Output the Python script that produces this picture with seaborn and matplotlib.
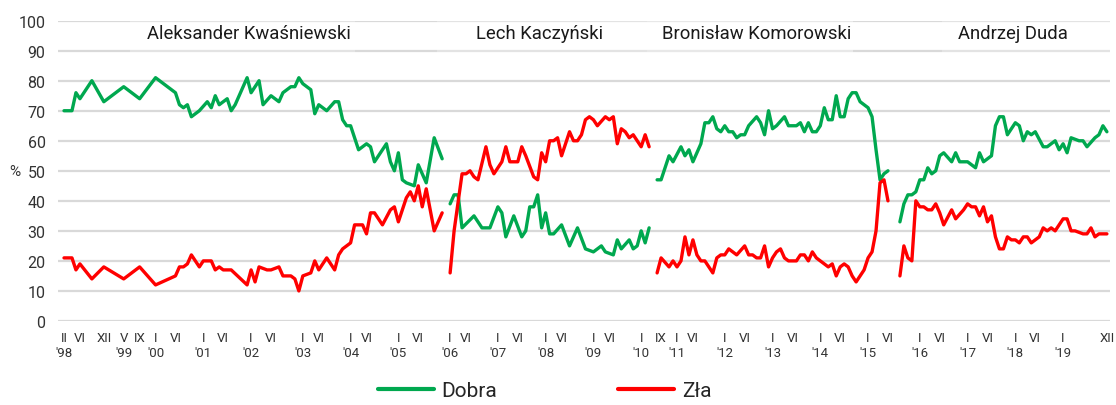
import matplotlib
matplotlib.use('Agg')
import matplotlib.pyplot as plt
import pandas as pd
import seaborn as sns


# survey index (one step per survey on the category axis) and share in %
kwas_x = [0, 2, 3, 4, 7, 10, 15, 19, 23, 28, 29, 30, 31, 32, 34, 36, 37, 38, 39, 41, 42, 43, 46, 47, 49, 50,
          52, 54, 55, 57, 58, 59, 60, 62, 63, 64, 66, 68, 69, 70, 71, 72, 74, 76, 77, 78, 81, 82, 83, 84, 85,
          86, 88, 89, 91, 93, 95]
kwas_dobra = [70, 70, 76, 74, 80, 73, 78, 74, 81, 76, 72, 71, 72, 68, 70, 73, 71, 75, 72, 74, 70, 72, 81, 76, 80, 72,
              75, 73, 76, 78, 78, 81, 79, 77, 69, 72, 70, 73, 73, 67, 65, 65, 57, 59, 58, 53, 59, 53, 50, 56, 47,
              46, 45, 52, 46, 61, 54]
kwas_zla_x = [0, 2, 3, 4, 7, 10, 15, 19, 23, 28, 29, 30, 31, 32, 34, 35, 37, 38, 39, 40, 42, 46, 47, 48, 49, 51,
              52, 54, 55, 57, 58, 59, 60, 62, 63, 64, 66, 68, 69, 70, 72, 73, 75, 76, 77, 78, 80, 82, 83, 84, 86,
              87, 88, 89, 90, 91, 93, 95]
kwas_zla = [21, 21, 17, 19, 14, 18, 14, 18, 12, 15, 18, 18, 19, 22, 18, 20, 20, 17, 18, 17, 17, 12, 17, 13, 18, 17,
            17, 18, 15, 15, 14, 10, 15, 16, 20, 17, 21, 17, 22, 24, 26, 32, 32, 29, 36, 36, 32, 37, 38, 33, 41,
            43, 40, 45, 38, 44, 30, 36]

kacz_x = [97, 98, 99, 100, 103, 105, 107, 109, 110, 111, 113, 115, 116, 117, 118, 119, 120, 121, 122, 123, 125,
          127, 129, 131, 133, 135, 136, 138, 139, 140, 142, 143, 144, 145, 146, 147]
kacz_dobra = [39, 42, 42, 31, 35, 31, 31, 38, 36, 28, 35, 28, 30, 38, 38, 42, 31, 36, 29, 29, 32,
              25, 31, 24, 23, 25, 23, 22, 27, 24, 27, 24, 25, 30, 26, 31]
kacz_zla_x = [97, 98, 100, 101, 102, 103, 104, 106, 107, 108, 109, 110, 111, 112, 113, 114, 115, 116, 118, 119,
              120, 121, 122, 123, 124, 125, 127, 128, 129, 130, 131, 132, 133, 134, 136, 137, 138, 139, 140,
              141, 142, 143, 145, 146, 147]
kacz_zla = [16, 30, 49, 49, 50, 48, 47, 58, 52, 49, 51, 53, 58, 53, 53, 53, 58, 55, 48, 47,
            56, 53, 60, 60, 61, 55, 63, 60, 60, 62, 67, 68, 67, 65, 68, 67, 68, 59, 64,
            63, 61, 62, 58, 62, 58]

komo_x = [149, 150, 152, 153, 155, 156, 157, 158, 160, 161, 162, 163, 164, 165, 166, 167, 168, 169, 170, 171,
          172, 174, 175, 176, 177, 178, 179, 181, 182, 184, 185, 186, 187, 188, 189, 190, 191, 192, 193, 194,
          195, 196, 197, 198, 199, 200, 201, 202, 203, 204, 205, 206, 207]
komo_dobra = [47, 47, 55, 53, 58, 55, 57, 53, 59, 66, 66, 68, 64, 63, 65, 63, 63, 61, 62, 62,
              65, 68, 66, 62, 70, 64, 65, 68, 65, 65, 66, 63, 66, 63, 63, 65, 71, 67, 67, 75,
              68, 68, 74, 76, 76, 73, 72, 71, 68, 57, 47, 49, 50]
komo_zla_x = [149, 150, 152, 153, 154, 155, 156, 157, 158, 159, 160, 161, 163, 164, 165, 166, 167, 169, 171, 172,
              173, 174, 175, 176, 177, 178, 179, 180, 181, 182, 184, 185, 186, 187, 188, 189, 191, 192, 193, 194,
              195, 196, 197, 198, 199, 200, 201, 202, 203, 204, 205, 206, 207]
komo_zla = [16, 21, 18, 20, 18, 20, 28, 22, 27, 22, 20, 20, 16, 21, 22, 22, 24, 22, 25, 22,
            22, 21, 21, 25, 18, 21, 23, 24, 21, 20, 20, 22, 22, 20, 23, 21, 19, 18, 19, 15,
            18, 19, 18, 15, 13, 15, 17, 21, 23, 30, 46, 47, 40]

duda_x = [210, 211, 212, 213, 214, 215, 216, 217, 218, 219, 220, 221, 223, 224, 225, 226, 227, 228, 229, 230,
          231, 233, 234, 235, 236, 237, 239, 240, 241, 242, 243, 244, 246, 247, 249, 250, 251, 252, 253, 255,
          256, 257, 259, 260, 261, 262]
duda_dobra = [33, 39, 42, 42, 43, 47, 47, 51, 49, 50, 55, 56, 53, 56, 53, 53, 53, 52, 51, 56,
              53, 55, 65, 68, 68, 62, 66, 65, 60, 63, 62, 63, 58, 58, 60, 57, 59, 56, 61, 60,
              60, 58, 61, 62, 65, 63]
duda_zla_x = [210, 211, 212, 213, 214, 215, 216, 217, 218, 219, 220, 221, 223, 224, 226, 227, 228, 229, 230, 231,
              232, 233, 234, 235, 236, 237, 238, 239, 240, 241, 242, 243, 245, 246, 247, 248, 249, 251, 252, 253,
              254, 256, 257, 258, 259, 260, 262]
duda_zla = [15, 25, 21, 20, 40, 38, 38, 37, 37, 39, 36, 32, 37, 34, 37, 39, 38, 38, 35, 38,
            33, 35, 28, 24, 24, 28, 27, 27, 26, 28, 28, 26, 28, 31, 30, 31, 30, 34, 34, 30,
            30, 29, 29, 31, 28, 29, 29]

presidents = ['Aleksander Kwaśniewski', 'Lech Kaczyński', 'Bronisław Komorowski', 'Andrzej Duda']
series_names = ['Dobra', 'Zła']

tick_pos = [0, 4, 10, 15, 19, 23, 28, 35, 40, 47, 52, 60, 64, 72, 76, 84, 89, 97, 101, 109, 114, 121, 125,
            133, 137, 145, 150, 154, 158, 166, 171, 178, 183, 190, 195, 202, 207, 215, 220, 227, 232, 239,
            244, 251, 262]
tick_months = ['II', 'VI', 'XII', 'V', 'IX'] + ['I', 'VI'] * 10 + ['I', 'IX'] + ['I', 'VI'] * 8 + ['I', 'XII']
tick_years = ["'98", '', '', "'99", '', "'00", '', "'01", '', "'02", '', "'03", '', "'04", '', "'05", '',
              "'06", '', "'07", '', "'08", '', "'09", '', "'10", '', "'11", '', "'12", '', "'13", '', "'14", '',
              "'15", '', "'16", '', "'17", '', "'18", '', "'19", '']

# layout only: name label centres and the faint boxes behind them (survey-index units)
name_pos = [46.5, 119.5, 174, 238.5]
name_boxes = [(16.6, 73.1, 0.28), (93.7, 146.5, 0.28), (146.5, 198.2, 0.4), (220.6, 263, 0.28)]
GREEN = '#00A84F'
RED = '#FF0000'


def build_frame():
    parts = [
        (presidents[0], kwas_x, kwas_dobra, kwas_zla_x, kwas_zla),
        (presidents[1], kacz_x, kacz_dobra, kacz_zla_x, kacz_zla),
        (presidents[2], komo_x, komo_dobra, komo_zla_x, komo_zla),
        (presidents[3], duda_x, duda_dobra, duda_zla_x, duda_zla),
    ]
    frames = []
    for name, xd, yd, xz, yz in parts:
        frames.append(pd.DataFrame({'idx': xd, 'value': yd, 'series': series_names[0], 'president': name}))
        frames.append(pd.DataFrame({'idx': xz, 'value': yz, 'series': series_names[1], 'president': name}))
    return pd.concat(frames, ignore_index=True)


def main():
    sns.set_style('white')
    plt.rcParams['font.family'] = ['Roboto', 'DejaVu Sans']

    df = build_frame()
    fig = plt.figure(figsize=(11.16, 4.06), dpi=100)
    ax = fig.add_axes([0.052, 0.207, 0.9427, 0.7397])

    sns.lineplot(data=df, x='idx', y='value', hue='series', units='president', estimator=None,
                 sort=False, palette={'Dobra': GREEN, 'Zła': RED}, linewidth=2.4, ax=ax)

    ax.set_ylim(0, 100)
    ax.set_xlim(-1.5, 262.8)
    ax.set_yticks(range(0, 101, 10))
    ax.yaxis.grid(True, color='#D9D9D9', linewidth=1.6)
    ax.xaxis.grid(False)
    ax.set_axisbelow(True)
    for s in ax.spines.values():
        s.set_visible(False)

    # faint white boxes over the top band, as in the original
    for x0, x1, a in name_boxes:
        ax.axvspan(x0, x1, ymin=0.88, ymax=1.01, facecolor='white', edgecolor='none', alpha=a,
                   zorder=1.5, clip_on=False)

    labels = [m + ('\n' + y if y else '') for m, y in zip(tick_months, tick_years)]
    ax.set_xticks(tick_pos)
    ax.set_xticklabels(labels, fontsize=9.5, color='#333333', linespacing=1.25)
    ax.tick_params(axis='x', length=0, pad=7)
    ax.tick_params(axis='y', length=0, pad=9, labelsize=11.5, labelcolor='#333333')
    ax.set_xlabel('')
    ax.set_ylabel('')
    ax.text(-0.046, 50, '%', transform=ax.get_yaxis_transform(), ha='left', va='center',
            fontsize=11, color='#333333')

    for name, xp in zip(presidents, name_pos):
        ax.text(xp, 95.8, name, ha='center', va='center', fontsize=13.3, color='#1a1a1a', zorder=3)

    handles, lbls = ax.get_legend_handles_labels()
    ax.get_legend().remove()
    for h in handles:
        h.set_linewidth(3)
    fig.legend(handles, lbls, loc='center', bbox_to_anchor=(0.488, 0.035), ncol=2, frameon=False,
               fontsize=15, handlelength=2.7, handletextpad=0.35, columnspacing=5.8)

    fig.savefig('out.png', dpi=100)
    plt.close(fig)


if __name__ == '__main__':
    main()
